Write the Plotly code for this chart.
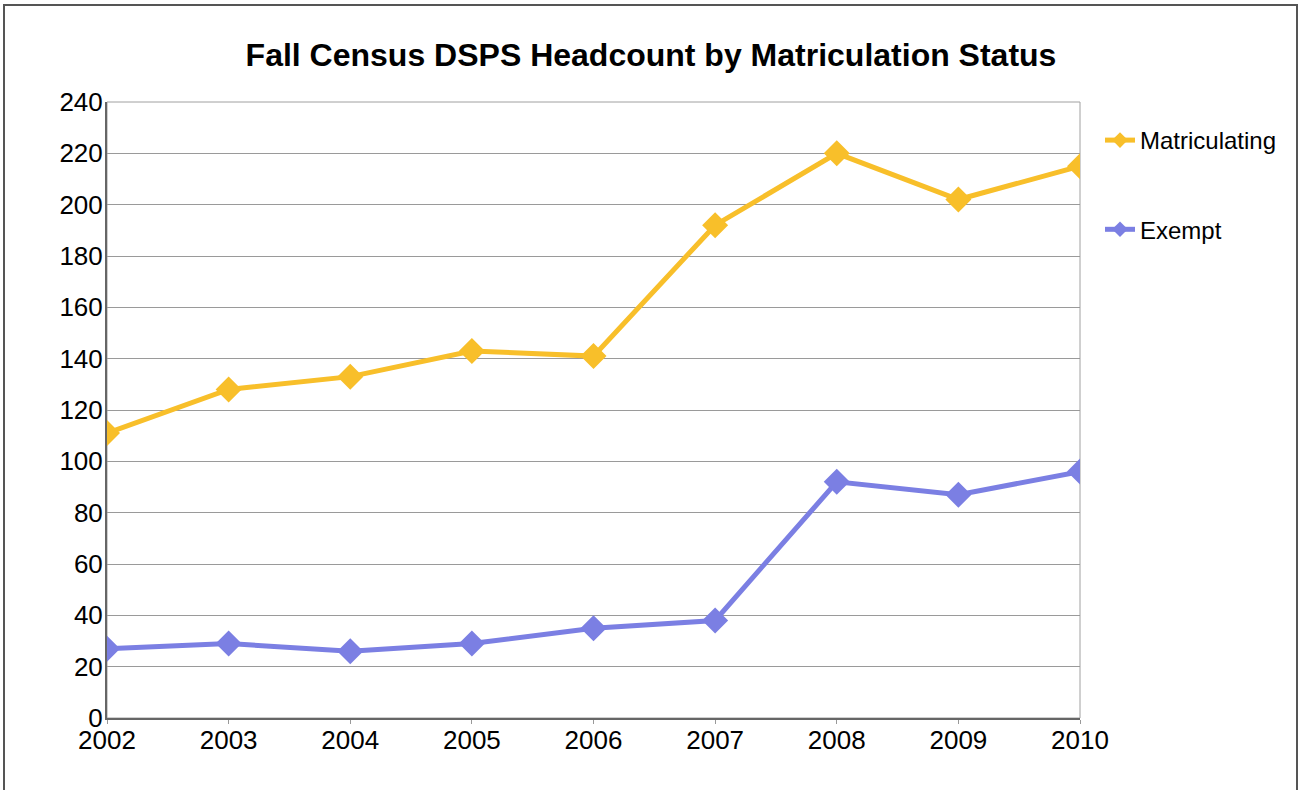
import plotly.graph_objects as go

years = [2002, 2003, 2004, 2005, 2006, 2007, 2008, 2009, 2010]
matriculating = [111, 128, 133, 143, 141, 192, 220, 202, 215]
exempt = [27, 29, 26, 29, 35, 38, 92, 87, 96]
y_ticks = list(range(0, 241, 20))

FONT = "Liberation Sans, Arial, sans-serif"
W, H = 1302, 790
L, R, T, B = 107, 222, 102, 72
pw = W - L - R
ph = H - T - B

fig = go.Figure()
fig.add_trace(go.Scatter(
    x=years, y=matriculating, name="Matriculating", mode="lines+markers",
    line=dict(color="#F8BF2A", width=5),
    marker=dict(symbol="diamond", size=20, color="#F8BF2A"),
    legendgroup="a",
))
fig.add_trace(go.Scatter(
    x=years, y=exempt, name="Exempt", mode="lines+markers",
    line=dict(color="#7B7FE3", width=5),
    marker=dict(symbol="diamond", size=20, color="#7B7FE3"),
    legendgroup="b",
))

fig.update_layout(
    width=W, height=H,
    margin=dict(l=L, r=R, t=T, b=B),
    paper_bgcolor="white", plot_bgcolor="white",
    font=dict(family=FONT, color="black", size=26),
    title=dict(text="<b>Fall Census DSPS Headcount by Matriculation Status</b>",
               x=0.5, xref="container", xanchor="center",
               y=1 - 55 / H, yref="container", yanchor="middle",
               font=dict(size=32, family=FONT, color="black")),
    showlegend=True,
    legend=dict(x=(1100 - L) / pw, xanchor="left", y=1 - (118 - T) / ph, yanchor="top",
                font=dict(size=24, family=FONT), tracegroupgap=55,
                itemwidth=30, itemsizing="constant", bgcolor="rgba(0,0,0,0)"),
    xaxis=dict(range=[2002, 2010], tickvals=years, ticktext=[str(y) for y in years],
               showgrid=False, zeroline=False, showline=True, linecolor="#666666", linewidth=2,
               ticks="outside", ticklen=4, tickcolor="#999999", tickwidth=1,
               ticklabelstandoff=-6,
               tickfont=dict(size=26), fixedrange=True),
    yaxis=dict(range=[0, 240], tickvals=y_ticks, showgrid=True, gridcolor="#9a9a9a", gridwidth=1,
               zeroline=False, showline=True, linecolor="#666666", linewidth=2,
               ticks="", ticklabelstandoff=-3, tickfont=dict(size=26), fixedrange=True),
    shapes=[
        dict(type="rect", xref="paper", yref="paper", x0=0, x1=1, y0=0, y1=1,
             line=dict(color="#a0a0a0", width=1), layer="below"),
        dict(type="rect", xref="paper", yref="paper",
             x0=(4 - L) / pw, x1=(1297 - L) / pw,
             y0=1 - (800 - T) / ph, y1=1 - (5 - T) / ph,
             line=dict(color="#555555", width=2)),
    ],
)

fig.write_html("out.html", config={"displayModeBar": False},
               post_script="document.body.style.margin='0';document.body.style.overflow='hidden';")
